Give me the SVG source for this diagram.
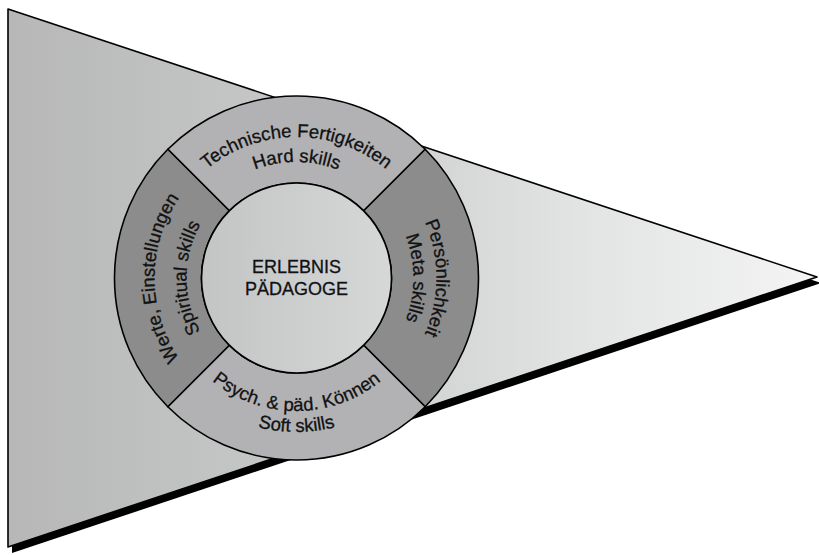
<svg xmlns="http://www.w3.org/2000/svg" width="819" height="555" viewBox="0 0 819 555">
  <defs>
    <linearGradient id="flagFill" gradientUnits="userSpaceOnUse" x1="8" y1="0" x2="817" y2="0">
      <stop offset="0" stop-color="#b7b7b7"/>
      <stop offset="0.35" stop-color="#c6c8c8"/>
      <stop offset="0.72" stop-color="#e3e4e4"/>
      <stop offset="1" stop-color="#f4f4f4"/>
    </linearGradient>
    <linearGradient id="coreFill" gradientUnits="userSpaceOnUse" x1="201" y1="0" x2="392" y2="0">
      <stop offset="0" stop-color="#c3c4c4"/>
      <stop offset="1" stop-color="#d6d8d8"/>
    </linearGradient>
    <!-- baselines for the curved labels, all centred on (296.5, 278) -->
    <path id="arcTop1" d="M155.5,278 A141,141 0 0 1 437.5,278"/>
    <path id="arcTop2" d="M180.5,278 A116,116 0 0 1 412.5,278"/>
    <path id="arcRight1" d="M296.5,138 A140,140 0 0 1 296.5,418"/>
    <path id="arcRight2" d="M296.5,161 A117,117 0 0 1 296.5,395"/>
    <path id="arcLeft1" d="M296.5,420 A142,142 0 0 1 296.5,136"/>
    <path id="arcLeft2" d="M296.5,388 A110,110 0 0 1 296.5,168"/>
    <path id="arcBottom1" d="M163.5,278 A133,133 0 0 0 429.5,278"/>
    <path id="arcBottom2" d="M142.5,278 A154,154 0 0 0 450.5,278"/>
  </defs>
  <style>
    .outline { stroke: #000; stroke-width: 1.6; stroke-linejoin: round; }
    .light { fill: #b2b2b4; }
    .dark { fill: #8c8c8c; }
    .label { font-family: "Liberation Sans", Arial, sans-serif; font-size: 18.5px; fill: #111; stroke: #111; stroke-width: 0.3; }
    .core-label { font-size: 18px; }
  </style>

  <!-- pennant with drop shadow -->
  <g id="pennant">
    <polygon points="12,15 821,283 12,553" fill="#000"/>
    <polygon class="outline" points="8,9 817,277 8,547" fill="url(#flagFill)"/>
  </g>

  <g id="connectors"/>

  <g id="hard-skills">
    <path class="outline light" d="M167.8,149.3 A182,182 0 0 1 425.2,149.3 L363.7,210.8 A95,95 0 0 0 229.3,210.8 Z"/>
    <text class="label"><textPath href="#arcTop1" startOffset="50%" text-anchor="middle">Technische Fertigkeiten</textPath></text>
    <text class="label"><textPath href="#arcTop2" startOffset="50%" text-anchor="middle">Hard skills</textPath></text>
  </g>

  <g id="meta-skills">
    <path class="outline dark" d="M425.2,149.3 A182,182 0 0 1 425.2,406.7 L363.7,345.2 A95,95 0 0 0 363.7,210.8 Z"/>
    <text class="label"><textPath href="#arcRight1" startOffset="50%" text-anchor="middle">Persönlichkeit</textPath></text>
    <text class="label"><textPath href="#arcRight2" startOffset="50%" text-anchor="middle">Meta skills</textPath></text>
  </g>

  <g id="soft-skills">
    <path class="outline light" d="M425.2,406.7 A182,182 0 0 1 167.8,406.7 L229.3,345.2 A95,95 0 0 0 363.7,345.2 Z"/>
    <text class="label"><textPath href="#arcBottom1" startOffset="50%" text-anchor="middle">Psych. &amp; päd. Können</textPath></text>
    <text class="label"><textPath href="#arcBottom2" startOffset="50%" text-anchor="middle">Soft skills</textPath></text>
  </g>

  <g id="spiritual-skills">
    <path class="outline dark" d="M167.8,406.7 A182,182 0 0 1 167.8,149.3 L229.3,210.8 A95,95 0 0 0 229.3,345.2 Z"/>
    <text class="label"><textPath href="#arcLeft1" startOffset="50%" text-anchor="middle">Werte, Einstellungen</textPath></text>
    <text class="label"><textPath href="#arcLeft2" startOffset="50%" text-anchor="middle">Spiritual skills</textPath></text>
  </g>

  <g id="core">
    <circle class="outline" cx="296.5" cy="278" r="95" fill="url(#coreFill)"/>
    <text class="label core-label" x="296.5" y="273" text-anchor="middle">ERLEBNIS</text>
    <text class="label core-label" x="296.5" y="295" text-anchor="middle">PÄDAGOGE</text>
  </g>
</svg>
